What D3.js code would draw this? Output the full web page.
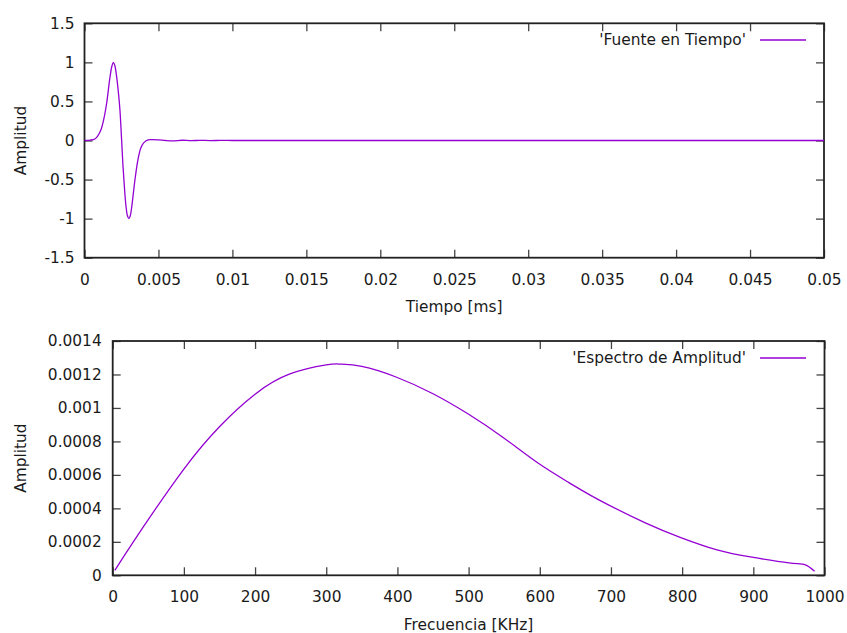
<!DOCTYPE html>
<html>
<head>
<meta charset="utf-8">
<script src="https://cdn.jsdelivr.net/npm/d3@7"></script>
<style>
  html, body { margin: 0; padding: 0; background: #fff; }
  svg text { font-family: "DejaVu Sans", sans-serif; fill: #1a1a1a; }
</style>
</head>
<body>
<svg id="chart" width="847" height="633"></svg>
<script>
// ---- Data ----
const timeT = [0, 0.0004, 0.0007, 0.0009, 0.0011, 0.0013, 0.0015, 0.0017, 0.00185, 0.00195, 0.00205, 0.00215, 0.0023, 0.0024, 0.0025, 0.0026, 0.0027, 0.0028, 0.0029, 0.0030, 0.0031, 0.0032, 0.0033, 0.0034, 0.0036, 0.0038, 0.0040, 0.0043, 0.0046, 0.0050, 0.0055, 0.0060, 0.0066, 0.0072, 0.0078, 0.0085, 0.0092, 0.0100, 0.0120, 0.0150, 0.0200, 0.0300, 0.0400, 0.0500];
const timeV = [0, 0.005, 0.02, 0.06, 0.13, 0.27, 0.48, 0.78, 0.95, 1.0, 0.96, 0.85, 0.6, 0.38, 0.04, -0.32, -0.6, -0.83, -0.96, -1.0, -0.96, -0.84, -0.68, -0.52, -0.26, -0.1, -0.03, 0.008, 0.012, 0.008, 0.0, -0.004, 0.003, -0.002, 0.002, -0.001, 0.001, 0.0, 0.0, 0.0, 0.0, 0.0, 0.0, 0.0];

const freqF = [3, 43, 100, 150, 200, 249, 300, 320, 350, 398, 450, 499, 548, 598, 641, 683, 749, 799, 849, 898, 950, 973, 986];
const freqV = [0.00003, 0.000289, 0.000635, 0.000888, 0.001082, 0.001203, 0.001257, 0.001262, 0.001248, 0.001185, 0.001085, 0.000965, 0.000825, 0.000669, 0.000554, 0.000451, 0.000312, 0.000224, 0.000152, 0.000108, 0.000074, 0.000062, 0.000024];

const topXTicks = [0, 0.005, 0.01, 0.015, 0.02, 0.025, 0.03, 0.035, 0.04, 0.045, 0.05];
const topXLabels = ["0", "0.005", "0.01", "0.015", "0.02", "0.025", "0.03", "0.035", "0.04", "0.045", "0.05"];
const topYTicks = [-1.5, -1, -0.5, 0, 0.5, 1, 1.5];
const topYLabels = ["-1.5", "-1", "-0.5", "0", "0.5", "1", "1.5"];

const botXTicks = [0, 100, 200, 300, 400, 500, 600, 700, 800, 900, 1000];
const botXLabels = ["0", "100", "200", "300", "400", "500", "600", "700", "800", "900", "1000"];
const botYTicks = [0, 0.0002, 0.0004, 0.0006, 0.0008, 0.001, 0.0012, 0.0014];
const botYLabels = ["0", "0.0002", "0.0004", "0.0006", "0.0008", "0.001", "0.0012", "0.0014"];

const seriesNames = ["'Fuente en Tiempo'", "'Espectro de Amplitud'"];
const xTitles = ["Tiempo [ms]", "Frecuencia [KHz]"];
const yTitle = "Amplitud";

// ---- Drawing ----
const svg = d3.select("#chart");
const LINE = "#9400d3";
const AXIS = "#222";
const FS = 15.4;

function panel(cfg) {
  const {left, right, top, bottom, xDom, yDom, xTicks, xLabels, yTicks, yLabels, xs, ys, name, xTitle, xTitleY, yTitleX, legendY, labelGap, curve} = cfg;
  const x = d3.scaleLinear().domain(xDom).range([left, right]);
  const y = d3.scaleLinear().domain(yDom).range([bottom, top]);
  const g = svg.append("g");
  const tick = 8;

  const ax = g.append("g").attr("transform", `translate(0,${bottom})`)
    .call(d3.axisBottom(x).tickValues(xTicks).tickFormat((d, i) => xLabels[i]).tickSizeInner(-tick).tickSizeOuter(0).tickPadding(tick + 8));
  const ay = g.append("g").attr("transform", `translate(${left},0)`)
    .call(d3.axisLeft(y).tickValues(yTicks).tickFormat((d, i) => yLabels[i]).tickSizeInner(-tick).tickSizeOuter(0).tickPadding(tick + labelGap));
  const at = g.append("g").attr("transform", `translate(0,${top})`)
    .call(d3.axisTop(x).tickValues(xTicks).tickFormat("").tickSizeInner(-tick).tickSizeOuter(0));
  const ar = g.append("g").attr("transform", `translate(${right},0)`)
    .call(d3.axisRight(y).tickValues(yTicks).tickFormat("").tickSizeInner(-tick).tickSizeOuter(0));

  [ax, ay, at, ar].forEach(a => {
    a.select(".domain").remove();
    a.selectAll(".tick line").attr("stroke", "#444").attr("stroke-width", 1.3);
    a.selectAll(".tick text").style("font-size", FS + "px").style("font-family", "DejaVu Sans").attr("fill", "#1a1a1a");
  });

  g.append("rect").attr("x", left).attr("y", top).attr("width", right - left).attr("height", bottom - top)
    .attr("fill", "none").attr("stroke", AXIS).attr("stroke-width", 1.8);

  const data = xs.map((v, i) => [v, ys[i]]);
  g.append("path").datum(data)
    .attr("fill", "none").attr("stroke", LINE).attr("stroke-width", 1.3)
    .attr("stroke-linejoin", "round")
    .attr("d", d3.line().x(d => x(d[0])).y(d => y(d[1])).curve(curve));

  g.append("text").attr("x", 746).attr("y", legendY).attr("dy", "0.35em")
    .attr("text-anchor", "end").style("font-size", FS + "px").text(name);
  g.append("line").attr("x1", 760).attr("x2", 806).attr("y1", legendY).attr("y2", legendY)
    .attr("stroke", LINE).attr("stroke-width", 1.3);

  g.append("text").attr("x", (left + right) / 2).attr("y", xTitleY)
    .attr("text-anchor", "middle").style("font-size", FS + "px").text(xTitle);
  g.append("text").attr("transform", `translate(${yTitleX},${(top + bottom) / 2}) rotate(-90)`)
    .attr("text-anchor", "middle").style("font-size", FS + "px").text(yTitle);
}

panel({
  left: 84.5, right: 824, top: 23.3, bottom: 257.7,
  xDom: [0, 0.05], yDom: [-1.5, 1.5],
  xTicks: topXTicks, xLabels: topXLabels, yTicks: topYTicks, yLabels: topYLabels,
  xs: timeT, ys: timeV, name: seriesNames[0], xTitle: xTitles[0],
  xTitleY: 312, yTitleX: 26, legendY: 40, labelGap: 2,
  curve: d3.curveCatmullRom.alpha(0.5)
});

panel({
  left: 112.7, right: 824.5, top: 341, bottom: 575.3,
  xDom: [0, 1000], yDom: [0, 0.0014],
  xTicks: botXTicks, xLabels: botXLabels, yTicks: botYTicks, yLabels: botYLabels,
  xs: freqF, ys: freqV, name: seriesNames[1], xTitle: xTitles[1],
  xTitleY: 630, yTitleX: 26, legendY: 358, labelGap: 3,
  curve: d3.curveNatural
});
</script>
</body>
</html>
